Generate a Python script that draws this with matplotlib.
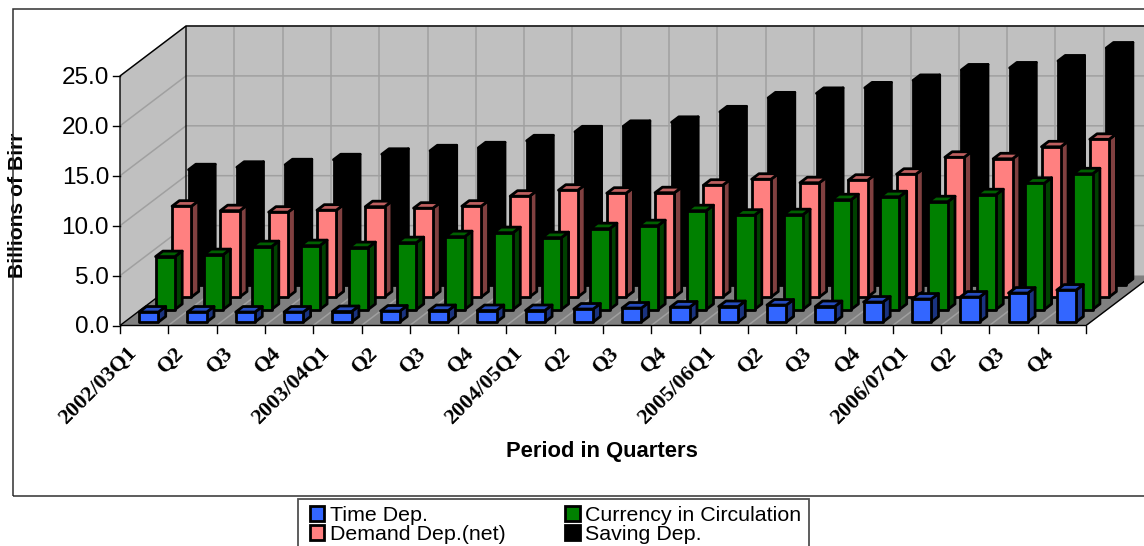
import matplotlib
matplotlib.use("Agg")
import matplotlib.pyplot as plt
from matplotlib.patches import Patch, Polygon, Rectangle

quarters = ["2002/03Q1", "Q2", "Q3", "Q4", "2003/04Q1", "Q2", "Q3", "Q4",
            "2004/05Q1", "Q2", "Q3", "Q4", "2005/06Q1", "Q2", "Q3", "Q4",
            "2006/07Q1", "Q2", "Q3", "Q4"]
time_dep = [1.0, 1.0, 1.0, 1.0, 1.05, 1.1, 1.15, 1.15, 1.15, 1.3,
            1.4, 1.5, 1.55, 1.7, 1.55, 2.0, 2.3, 2.5, 2.9, 3.2]
currency = [5.3, 5.5, 6.3, 6.4, 6.2, 6.7, 7.3, 7.7, 7.2, 8.1,
            8.4, 9.9, 9.45, 9.5, 11.0, 11.3, 10.8, 11.5, 12.65, 13.6]
demand = [9.1, 8.65, 8.5, 8.7, 9.05, 8.9, 9.1, 10.1, 10.7, 10.4,
          10.45, 11.2, 11.8, 11.45, 11.7, 12.3, 14.0, 13.85, 15.05, 15.8]
saving = [11.5, 11.75, 12.0, 12.5, 13.05, 13.4, 13.7, 14.4, 15.3, 15.85,
          16.25, 17.3, 18.7, 19.15, 19.7, 20.45, 21.5, 21.7, 22.4, 23.7]
y_ticks = [0, 5, 10, 15, 20, 25]

W, H = 1144, 546
PX_CAT, PX_VAL = 48.3, 9.98      # pixels per category / per billion
X0, Y0 = 120, 325.5              # pixel position of the front-left floor corner
DEPTH_DX, DEPTH_DY = 66, 50      # pixel offset of the back wall from the front
BAR_W, BAR_D = 0.40, 0.11
EDGE = 2.0

SERIES = [  # drawn back to front
    ("Saving Dep.", saving, 0.82, "#000000", "#000000", "#000000"),
    ("Demand Dep.(net)", demand, 0.57, "#FF8080", "#C06060", "#804040"),
    ("Currency in Circulation", currency, 0.32, "#008000", "#006000", "#004000"),
    ("Time Dep.", time_dep, 0.07, "#3366FF", "#264CBF", "#1A3380"),
]

plt.rcParams["font.family"] = ["Liberation Sans", "DejaVu Sans"]
fig = plt.figure(figsize=(W / 100, H / 100), dpi=100)
ax = fig.add_axes([0, 0, 1, 1])
ax.set_xlim(-X0 / PX_CAT, (W - X0) / PX_CAT)
ax.set_ylim(-(H - Y0) / PX_VAL, Y0 / PX_VAL)
ax.axis("off")

# Outer chart frame, running off the right side of the figure
fig.add_artist(Rectangle((12.5 / W, 1 - 495.5 / H), 1.2, (495.5 - 8.5) / H,
                         transform=fig.transFigure, fill=False,
                         ec="#303030", lw=1.1))


def at(x, val, z=0.0):
    """Oblique projection of (category, value, depth) on to the axes."""
    return (x + z * DEPTH_DX / PX_CAT, val + z * DEPTH_DY / PX_VAL)


n = len(quarters)
top = y_ticks[-1]

# Walls and floor
ax.add_patch(Polygon([at(0, 0, 1), at(n, 0, 1), at(n, top, 1), at(0, top, 1)],
                     fc="#C0C0C0", ec="none", zorder=1))
ax.add_patch(Polygon([at(0, 0), at(0, 0, 1), at(0, top, 1), at(0, top)],
                     fc="#C0C0C0", ec="none", zorder=1))
ax.add_patch(Polygon([at(0, 0), at(n, 0), at(n, 0, 1), at(0, 0, 1)],
                     fc="#808080", ec="none", zorder=1))

# Gridlines
grid = dict(color="#A0A0A0", lw=1.1, zorder=2, solid_capstyle="butt")
for v in y_ticks[1:]:
    ax.plot(*zip(at(0, v), at(0, v, 1), at(n, v, 1)), **grid)
for i in range(1, n + 1):
    ax.plot(*zip(at(i, 0, 1), at(i, top, 1)), **grid)
    ax.plot(*zip(at(i, 0), at(i, 0, 1)), **grid)

# Wall and floor outlines
line = dict(color="black", lw=1.0, zorder=3, solid_capstyle="butt")
ax.plot(*zip(at(0, 0), at(0, top), at(0, top, 1), at(n, top, 1)), **line)
ax.plot(*zip(at(0, 0), at(0, 0, 1), at(0, top, 1)), **line)
ax.plot(*zip(at(0, 0), at(n, 0), at(n, 0, 1)), **line)

# Bars
for name, values, z, front, lid, side in SERIES:
    for i, v in enumerate(values):
        x0, x1 = i + 0.5 - BAR_W / 2, i + 0.5 + BAR_W / 2
        z1 = z + BAR_D
        style = dict(ec="black", lw=EDGE, joinstyle="round", zorder=5)
        ax.add_patch(Polygon([at(x1, 0, z), at(x1, 0, z1), at(x1, v, z1), at(x1, v, z)],
                             fc=side, **style))
        ax.add_patch(Polygon([at(x0, v, z), at(x1, v, z), at(x1, v, z1), at(x0, v, z1)],
                             fc=lid, **style))
        ax.add_patch(Polygon([at(x0, 0, z), at(x1, 0, z), at(x1, v, z), at(x0, v, z)],
                             fc=front, **style))

# Axis ticks and labels
tick_dx, tick_dy = 7 / PX_CAT, 7 / PX_VAL
tick = dict(color="black", lw=1.0, zorder=3, clip_on=False)
for i in range(n + 1):
    ax.plot([i, i], [0, -tick_dy], **tick)
for v in y_ticks:
    ax.plot([0, -tick_dx], [v, v], **tick)
    ax.text(-11 / PX_CAT, v - 0.2, f"{v:.1f}", ha="right", va="center",
            fontsize=17.5, color="black")
for i, label in enumerate(quarters):
    ax.text(i + 0.5 - 11 / PX_CAT, -25 / PX_VAL, label, rotation=45,
            rotation_mode="anchor", ha="right", va="center",
            family=["Liberation Serif", "DejaVu Serif"], fontweight="bold", fontsize=15.8)

ax.text((602 - X0) / PX_CAT, -(451 - Y0) / PX_VAL, "Period in Quarters",
        ha="center", va="center", fontweight="bold", fontsize=15.8)
ax.text((17 - X0) / PX_CAT, -(205 - Y0) / PX_VAL, "Billions of Birr", rotation=90,
        ha="center", va="center", fontweight="bold", fontsize=15.2)

# Legend frame, cut off by the bottom edge of the figure
fig.add_artist(Rectangle((297.5 / W, -0.02), (808.5 - 297.5) / W, 1 - 499.5 / H + 0.02,
                         transform=fig.transFigure, fc="white",
                         ec="#505050", lw=1.3, zorder=8))
handles = [Patch(fc=color, ec="black", lw=2.0) for color in ("#3366FF", "#FF8080", "#008000", "#000000")]
labels = ["Time Dep.", "Demand Dep.(net)", "Currency in Circulation", "Saving Dep."]
leg = fig.legend(handles, labels, ncol=2, loc="upper left",
                 bbox_to_anchor=(309.5 / W, 1 - 506 / H), bbox_transform=fig.transFigure,
                 fontsize=15.4, frameon=False, borderaxespad=0, borderpad=0,
                 handlelength=0.7, handleheight=0.7, handletextpad=0.24,
                 columnspacing=2.78, labelspacing=0.0)
leg.set_zorder(9)

fig.savefig("out.png", dpi=100)
